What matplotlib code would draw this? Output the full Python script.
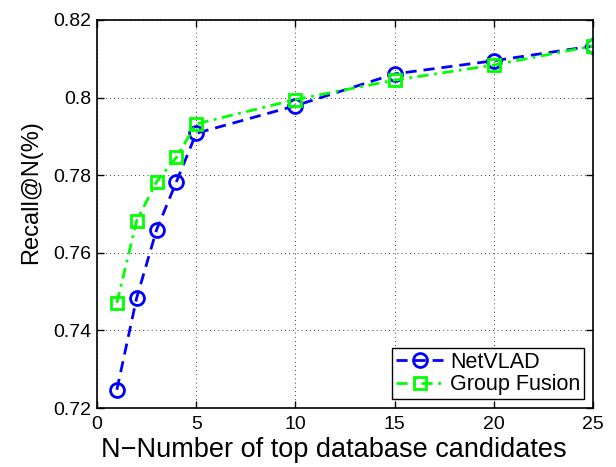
import matplotlib
matplotlib.use('Agg')
import matplotlib.pyplot as plt

plt.rcParams['font.family'] = ['Liberation Sans', 'DejaVu Sans']

# data
n_values = [1, 2, 3, 4, 5, 10, 15, 20, 25]
netvlad = [0.7247, 0.7484, 0.7659, 0.7783, 0.7908, 0.7979, 0.8061, 0.8095, 0.8133]
group_fusion = [0.7471, 0.7683, 0.7783, 0.7846, 0.7932, 0.7995, 0.8045, 0.8084, 0.8133]
x_ticks = [0, 5, 10, 15, 20, 25]
y_ticks = [0.72, 0.74, 0.76, 0.78, 0.8, 0.82]
y_tick_labels = ['0.72', '0.74', '0.76', '0.78', '0.8', '0.82']

fig = plt.figure(figsize=(6.16, 4.67), dpi=100)
ax = fig.add_axes([0.1575, 0.1263, 0.8052, 0.8309])

ax.plot(n_values, netvlad, color='#0000ff', linestyle=(0, (4, 2.5)), linewidth=2,
        marker='o', markersize=10, markerfacecolor='none', markeredgewidth=2,
        label='NetVLAD')
ax.plot(n_values, group_fusion, color='#00ff00', linestyle=(0, (4, 2, 1, 2)), linewidth=2,
        marker='s', markersize=8, markerfacecolor='none', markeredgewidth=2,
        label='Group Fusion')

ax.set_xlim(0, 25)
ax.set_ylim(0.72, 0.82)
ax.set_xticks(x_ticks)
ax.set_yticks(y_ticks)
ax.set_yticklabels(y_tick_labels)
ax.tick_params(direction='in', top=True, right=True, labelsize=14, length=5, width=1)
ax.tick_params(axis='x', pad=6)
ax.tick_params(axis='y', pad=4)
ax.grid(True, linestyle=(0, (1, 4)), color='black', linewidth=0.6)
for s in ax.spines.values():
    s.set_linewidth(1.2)

ax.set_xlabel('N\u2212Number of top database candidates', fontsize=19.5)
ax.set_ylabel('Recall@N(%)', fontsize=17)
# labels sit a little off-centre in the original
ax.xaxis.set_label_coords(0.478, -0.075)
ax.yaxis.set_label_coords(-0.11, 0.557)

leg = ax.legend(loc='lower right', fontsize=15.5, fancybox=False, edgecolor='black',
                borderaxespad=0.4, handlelength=2.2, handletextpad=0.3,
                borderpad=0.2, labelspacing=0.05, framealpha=1)
leg.get_frame().set_linewidth(1)

fig.savefig('out.png', dpi=100)
